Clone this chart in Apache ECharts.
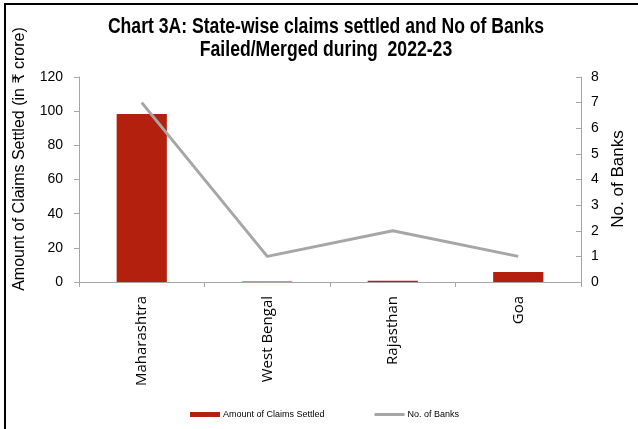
<!DOCTYPE html>
<html>
<head>
<meta charset="utf-8">
<script src="https://cdn.jsdelivr.net/npm/echarts@6/dist/echarts.min.js"></script>
<style>
  html, body { margin: 0; padding: 0; background: #fff; }
  #chart3A { width: 638px; height: 429px; }
</style>
</head>
<body>
<div id="chart3A"></div>
<script>
// data
var states = ["Maharashtra", "West Bengal", "Rajasthan", "Goa"];
var claimsSettled = [98.3, 0.3, 0.8, 5.8]; // ₹ crore
var noOfBanks = [7, 1, 2, 1];

var chart = echarts.init(document.getElementById("chart3A"));
var option = {
  backgroundColor: "#fff",
  animation: false,
  graphic: [
    // frame (left and top edges visible)
    {
      type: "polyline",
      shape: { points: [[5, 429], [5, 4], [638, 4]] },
      style: { stroke: "#000", lineWidth: 2, fill: null },
    },
    // title, narrowed to look like Arial Narrow
    {
      type: "text",
      x: 326,
      y: 38,
      scaleX: 0.8,
      style: {
        text: "Chart 3A: State-wise claims settled and No of Banks\nFailed/Merged during  2022-23",
        fontFamily: "Liberation Sans, Arial",
        fontSize: 22,
        fontWeight: "bold",
        lineHeight: 23,
        fill: "#000",
        align: "center",
        verticalAlign: "middle",
      },
    },
    {
      type: "text",
      x: 20,
      y: 159,
      rotation: Math.PI / 2,
      style: {
        text: "Amount of Claims Settled (in ₹ crore)",
        fontFamily: "Liberation Sans, DejaVu Sans, Noto Sans",
        fontSize: 16,
        fill: "#000",
        align: "center",
        verticalAlign: "middle",
      },
    },
    {
      type: "text",
      x: 618,
      y: 179,
      rotation: Math.PI / 2,
      style: {
        text: "No. of Banks",
        fontFamily: "Liberation Sans, Arial",
        fontSize: 17,
        fill: "#000",
        align: "center",
        verticalAlign: "middle",
      },
    },
  ],
  legend: {
    bottom: 5,
    left: 185,
    itemGap: 50,
    itemWidth: 30,
    itemHeight: 5,
    textStyle: { fontSize: 9, color: "#000", fontFamily: "Liberation Sans, Arial", padding: [0, 0, 0, -2] },
    data: [
      { name: "Amount of Claims Settled", icon: "rect" },
      { name: "No. of Banks", icon: "path://M0,0 L30,0 L30,3 L0,3 Z" },
    ],
  },
  grid: { left: 79, right: 57, top: 77, bottom: 147 },
  xAxis: {
    type: "category",
    data: states,
    axisLine: { lineStyle: { color: "#a6a6a6", width: 1 } },
    axisTick: { show: true, length: 5, lineStyle: { color: "#a6a6a6" } },
    axisLabel: {
      rotate: 90,
      interval: 0,
      margin: 14,
      fontFamily: "Open Sans, DejaVu Sans",
      fontSize: 15,
      color: "#000",
    },
  },
  yAxis: [
    {
      type: "value",
      min: 0,
      max: 120,
      interval: 20,
      splitLine: { show: false },
      axisLine: { show: true, lineStyle: { color: "#a6a6a6" } },
      axisTick: { show: true, length: 5, lineStyle: { color: "#a6a6a6" } },
      axisLabel: { fontSize: 14, color: "#000", margin: 16, fontFamily: "Liberation Sans, Arial" },
    },
    {
      type: "value",
      min: 0,
      max: 8,
      interval: 1,
      splitLine: { show: false },
      axisLine: { show: true, lineStyle: { color: "#a6a6a6" } },
      axisTick: { show: true, inside: true, length: 5, lineStyle: { color: "#a6a6a6" } },
      axisLabel: { fontSize: 14, color: "#000", margin: 10, fontFamily: "Liberation Sans, Arial" },
    },
  ],
  series: [
    {
      name: "Amount of Claims Settled",
      type: "bar",
      yAxisIndex: 0,
      data: claimsSettled,
      barWidth: "40%",
      itemStyle: { color: "#b3210e" },
    },
    {
      name: "No. of Banks",
      type: "line",
      yAxisIndex: 1,
      data: noOfBanks,
      symbol: "none",
      lineStyle: { color: "#a6a6a6", width: 3 },
      itemStyle: { color: "#a6a6a6" },
    },
  ],
};
chart.setOption(option);
window.onresize = function () {
  chart.resize();
};
</script>
</body>
</html>
